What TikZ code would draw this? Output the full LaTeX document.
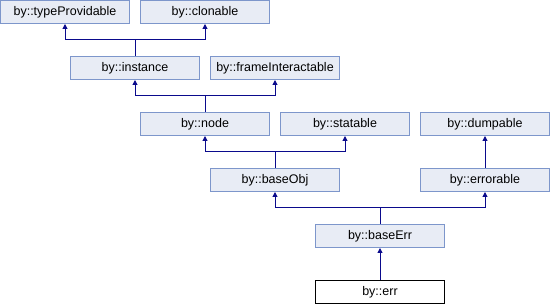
\documentclass[tikz,border=0pt]{standalone}
\usepackage{fontspec}
\setmainfont{Liberation Sans}
\usetikzlibrary{arrows.meta,positioning}
\definecolor{boxfill}{HTML}{E8ECF5}
\definecolor{boxline}{HTML}{7D96CB}
\definecolor{inhline}{HTML}{0A0A8C}

\begin{document}
\begin{tikzpicture}[x=1pt,y=-1pt,every node/.style={font=\fontsize{12.5}{14}\selectfont},
  cls/.style={draw=boxline,fill=boxfill,line width=1pt,minimum width=129pt,minimum height=23pt,inner sep=0pt},
  cur/.style={cls,draw=black,fill=white},
  inh/.style={draw=inhline,line width=1pt,-{Triangle[length=5pt,width=5pt]}}]
\useasboundingbox (0,0) rectangle (550,304);
% row 1
\node[cls] (typeProvidable) at (65,12) {by::typeProvidable};
\node[cls] (clonable) at (205,12) {by::clonable};
% row 2
\node[cls] (instance) at (135,68) {by::instance};
\node[cls] (frameInteractable) at (275,68) {by::frameInteractable};
% row 3
\node[cls] (node) at (205,124) {by::node};
\node[cls] (statable) at (345,124) {by::statable};
\node[cls] (dumpable) at (485,124) {by::dumpable};
% row 4
\node[cls] (baseObj) at (275,180) {by::baseObj};
\node[cls] (errorable) at (485,180) {by::errorable};
% row 5, 6
\node[cls] (baseErr) at (380,236) {by::baseErr};
\node[cur] (err) at (380,292) {by::err};
% inheritance
\draw[inh] (instance.north) -- ++(0,-16) -| (typeProvidable.south);
\draw[inh] (instance.north) -- ++(0,-16) -| (clonable.south);
\draw[inh] (node.north) -- ++(0,-16) -| (instance.south);
\draw[inh] (node.north) -- ++(0,-16) -| (frameInteractable.south);
\draw[inh] (baseObj.north) -- ++(0,-16) -| (node.south);
\draw[inh] (baseObj.north) -- ++(0,-16) -| (statable.south);
\draw[inh] (errorable.north) -- (dumpable.south);
\draw[inh] (baseErr.north) -- ++(0,-16) -| (baseObj.south);
\draw[inh] (baseErr.north) -- ++(0,-16) -| (errorable.south);
\draw[inh] (err.north) -- (baseErr.south);
\end{tikzpicture}
\end{document}
